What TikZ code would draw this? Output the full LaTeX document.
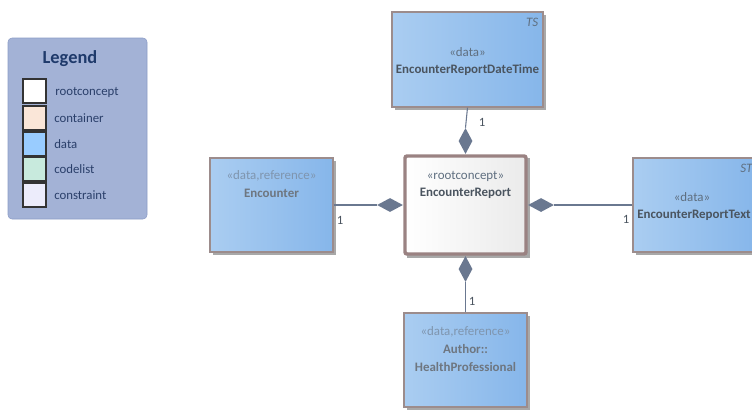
\documentclass[tikz,border=0pt]{standalone}
\usepackage{fontspec}
\setmainfont{Carlito}
\usetikzlibrary{shapes.geometric,calc}
\definecolor{legfill}{HTML}{A3B2D6}
\definecolor{legdraw}{HTML}{8C9CC6}
\definecolor{legtext}{HTML}{1F3A6B}
\definecolor{legitem}{HTML}{2A3F6A}
\definecolor{boxdraw}{HTML}{9C8C8C}
\definecolor{rootdraw}{HTML}{9A8282}
\definecolor{dataL}{HTML}{AACDF1}
\definecolor{dataR}{HTML}{86B6EA}
\definecolor{stereo}{HTML}{5F6F80}
\definecolor{stereoref}{HTML}{7F95AE}
\definecolor{nametext}{HTML}{4A545F}
\definecolor{nameref}{HTML}{6E7680}
\definecolor{conn}{HTML}{6A7890}
\definecolor{shadow}{HTML}{A8A8A8}
\definecolor{swcont}{HTML}{FAE6D8}
\definecolor{swdata}{HTML}{99CCFF}
\definecolor{swcode}{HTML}{C8EADD}
\definecolor{swcons}{HTML}{ECECFB}
\tikzset{
  px/.style={x=0.75pt,y=-0.75pt},
  databox/.style={draw=boxdraw,line width=0.9pt,left color=dataL,right color=dataR,inner sep=0pt},
  rootbox/.style={draw=rootdraw,line width=2.6pt,rounded corners=1.5pt,left color=white,right color=black!8,inner sep=0pt},
  shadowbox/.style={fill=shadow,draw=none,inner sep=0pt},
  stxt/.style={font=\fontsize{9.7}{11}\selectfont,text=stereo,inner sep=0pt},
  stxtref/.style={font=\fontsize{9.7}{11}\selectfont,text=stereoref,inner sep=0pt},
  ntxt/.style={font=\fontsize{9.7}{11}\selectfont\bfseries,text=nametext,inner sep=0pt},
  ntxtref/.style={font=\fontsize{9.7}{11}\selectfont\bfseries,text=nameref,inner sep=0pt},
  tagtxt/.style={font=\fontsize{9.7}{11}\selectfont\itshape,text=stereo,inner sep=0pt,anchor=north east},
  mult/.style={font=\fontsize{9.5}{11}\selectfont,text=nametext,inner sep=0pt},
  diam/.style={diamond,fill=conn,draw=none,inner sep=0pt,aspect=1.85,minimum width=26*0.75pt,minimum height=14*0.75pt},
  diamv/.style={diamond,fill=conn,draw=none,inner sep=0pt,aspect=0.54,minimum width=14*0.75pt,minimum height=26*0.75pt},
  connline/.style={draw=conn,line width=0.8pt},
  swatch/.style={draw=black!80,line width=1pt,minimum width=23*0.75pt,minimum height=24*0.75pt,inner sep=0pt},
  legtxt/.style={font=\fontsize{9.6}{11}\selectfont,text=legitem,anchor=west,inner sep=0pt}
}
\begin{document}
\begin{tikzpicture}[px]
\useasboundingbox (0,0) rectangle (752,411);
% Legend
\node[draw=legdraw,fill=legfill,rounded corners=3pt,minimum width=139*0.75pt,minimum height=181*0.75pt,inner sep=0pt] (legend) at (77.5,128.5) {};
\node[font=\fontsize{13.8}{15}\selectfont\bfseries,text=legtext,inner sep=0pt] (legtitle) at (70,59) {Legend};
\node[swatch,fill=white,line width=2.2pt] (sw1) at (34.5,91) {};
\node[swatch,fill=swcont] (sw2) at (34.5,118) {};
\node[swatch,fill=swdata] (sw3) at (34.5,144) {};
\node[swatch,fill=swcode] (sw4) at (34.5,169) {};
\node[swatch,fill=swcons] (sw5) at (34.5,195) {};
\node[legtxt] (lt1) at (55,92) {rootconcept};
\node[legtxt] (lt2) at (54,118) {container};
\node[legtxt] (lt3) at (54,144) {data};
\node[legtxt] (lt4) at (54,169) {codelist};
\node[legtxt] (lt5) at (54,195) {constraint};
% shadows
\node[shadowbox,minimum width=151*0.75pt,minimum height=95*0.75pt] (topS) at (470.5,62.5) {};
\node[shadowbox,minimum width=123*0.75pt,minimum height=94*0.75pt] (encS) at (274.5,208) {};
\node[shadowbox,minimum width=123*0.75pt,minimum height=100*0.75pt] (rootS) at (468.5,208) {};
\node[shadowbox,minimum width=124*0.75pt,minimum height=94*0.75pt] (rightS) at (698,208) {};
\node[shadowbox,minimum width=123*0.75pt,minimum height=94*0.75pt] (botS) at (468.5,363) {};
% boxes
\node[databox,minimum width=151*0.75pt,minimum height=95*0.75pt] (top) at (467.5,59.5) {};
\node[databox,minimum width=123*0.75pt,minimum height=94*0.75pt] (enc) at (271.5,205) {};
\node[rootbox,minimum width=121*0.75pt,minimum height=98*0.75pt] (root) at (465.5,205) {};
\node[databox,minimum width=124*0.75pt,minimum height=94*0.75pt] (right) at (695,205) {};
\node[databox,minimum width=123*0.75pt,minimum height=94*0.75pt] (bot) at (465.5,360) {};
% texts
\node[tagtxt] (topTag) at ($(top.north east)+(-5,6)$) {TS};
\node[stxt] (topSt) at (467.5,52) {«data»};
\node[ntxt] (topNm) at (467.5,70) {EncounterReportDateTime};
\node[stxtref] (encSt) at (271.5,176) {«data,reference»};
\node[ntxtref] (encNm) at (271.5,193) {Encounter};
\node[stxt] (rootSt) at (465.5,176) {«rootconcept»};
\node[ntxt] (rootNm) at (465.5,193) {EncounterReport};
\node[tagtxt] (rightTag) at ($(right.north east)+(-5,6)$) {ST};
\node[stxt] (rightSt) at (692,197) {«data»};
\node[ntxt] (rightNm) at (694,215) {EncounterReportText};
\node[stxtref] (botSt) at (465.5,332) {«data,reference»};
\node[ntxtref] (botNm1) at (465.5,349) {Author::};
\node[ntxtref] (botNm2) at (465.5,367) {HealthProfessional};
% diamonds
\node[diamv,anchor=south] (dTop) at (root.north) {};
\node[diamv,anchor=north] (dBot) at (root.south) {};
\node[diam,anchor=east] (dLeft) at (root.west) {};
\node[diam,anchor=west] (dRight) at (root.east) {};
% connectors
\draw[connline] (top.south) -- (dTop.north);
\draw[connline] (bot.north) -- (dBot.south);
\draw[connline] (enc.east) -- (dLeft.west);
\draw[connline] (right.west) -- (dRight.east);
% multiplicities
\node[mult] (m1) at (482,122) {1};
\node[mult] (m2) at (472,301) {1};
\node[mult] (m3) at (340,220) {1};
\node[mult] (m4) at (626,219) {1};
\end{tikzpicture}
\end{document}
